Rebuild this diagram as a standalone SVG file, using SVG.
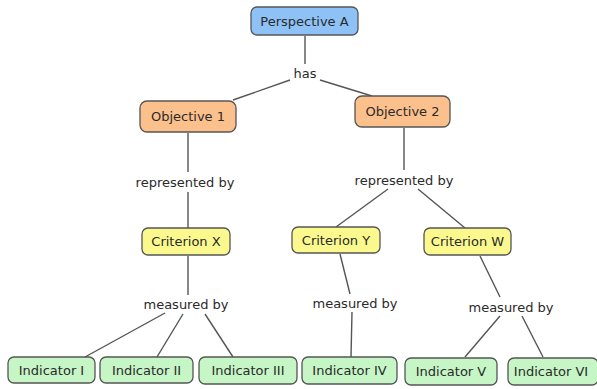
<svg xmlns="http://www.w3.org/2000/svg" width="597" height="389" viewBox="0 0 597 389">
<style>
text{font-family:"DejaVu Sans",Verdana,sans-serif;font-size:13px;fill:#2a2a2a;text-anchor:middle;dominant-baseline:central}
.n rect{stroke:#555;stroke-width:1.3}
.p rect{fill:#8ec2f6}
.o rect{fill:#fcc08d}
.c rect{fill:#fbf98e}
.i rect{fill:#c6f6c6}
#edges line{stroke:#555;stroke-width:1.4}
</style>
<rect width="597" height="389" fill="#fff"/>
<g id="edges">
<line x1="305" y1="36" x2="305" y2="64"/>
<line x1="290" y1="80" x2="233" y2="100"/>
<line x1="320" y1="80" x2="372" y2="96"/>
<line x1="188" y1="133" x2="188" y2="172"/>
<line x1="188" y1="192" x2="188" y2="228"/>
<line x1="404" y1="128" x2="404" y2="170"/>
<line x1="388" y1="189" x2="336" y2="227"/>
<line x1="418" y1="189" x2="465" y2="228"/>
<line x1="188" y1="256" x2="188" y2="295"/>
<line x1="165" y1="313" x2="85" y2="357"/>
<line x1="183" y1="314" x2="157" y2="357"/>
<line x1="205" y1="314" x2="233" y2="357"/>
<line x1="340" y1="254" x2="350" y2="294"/>
<line x1="352" y1="312" x2="351" y2="357"/>
<line x1="480" y1="256" x2="500" y2="297"/>
<line x1="500" y1="316" x2="465" y2="357"/>
<line x1="522" y1="316" x2="543" y2="357"/>
</g>
<g id="perspectiveA" class="n p"><rect x="251" y="7" width="107" height="28" rx="6"/><text x="304.5" y="21">Perspective A</text></g>
<text x="305" y="73">has</text>
<g id="objective1" class="n o"><rect x="140" y="101" width="96" height="31" rx="7"/><text x="188" y="116.5">Objective 1</text></g>
<g id="objective2" class="n o"><rect x="355" y="96" width="95" height="31" rx="7"/><text x="402.5" y="111.5">Objective 2</text></g>
<text x="185" y="182">represented by</text>
<text x="404" y="180">represented by</text>
<g id="criterionX" class="n c"><rect x="142" y="228" width="88" height="27" rx="6"/><text x="186" y="241.5">Criterion X</text></g>
<g id="criterionY" class="n c"><rect x="292" y="227" width="88" height="26" rx="6"/><text x="336" y="240">Criterion Y</text></g>
<g id="criterionW" class="n c"><rect x="424" y="228" width="87" height="27" rx="6"/><text x="467.5" y="241.5">Criterion W</text></g>
<text x="186" y="304">measured by</text>
<text x="355" y="303">measured by</text>
<text x="511" y="307">measured by</text>
<g id="indicatorI" class="n i"><rect x="8" y="357" width="87" height="26" rx="6"/><text x="51.5" y="370">Indicator I</text></g>
<g id="indicatorII" class="n i"><rect x="100" y="357" width="93" height="26" rx="6"/><text x="146.5" y="370">Indicator II</text></g>
<g id="indicatorIII" class="n i"><rect x="199" y="357" width="98" height="27" rx="6"/><text x="248" y="370.5">Indicator III</text></g>
<g id="indicatorIV" class="n i"><rect x="302" y="357" width="95" height="27" rx="6"/><text x="349.5" y="370.5">Indicator IV</text></g>
<g id="indicatorV" class="n i"><rect x="405" y="358" width="92" height="27" rx="6"/><text x="451" y="371.5">Indicator V</text></g>
<g id="indicatorVI" class="n i"><rect x="508" y="358" width="90" height="27" rx="6"/><text x="551" y="371.5">Indicator VI</text></g>
</svg>
